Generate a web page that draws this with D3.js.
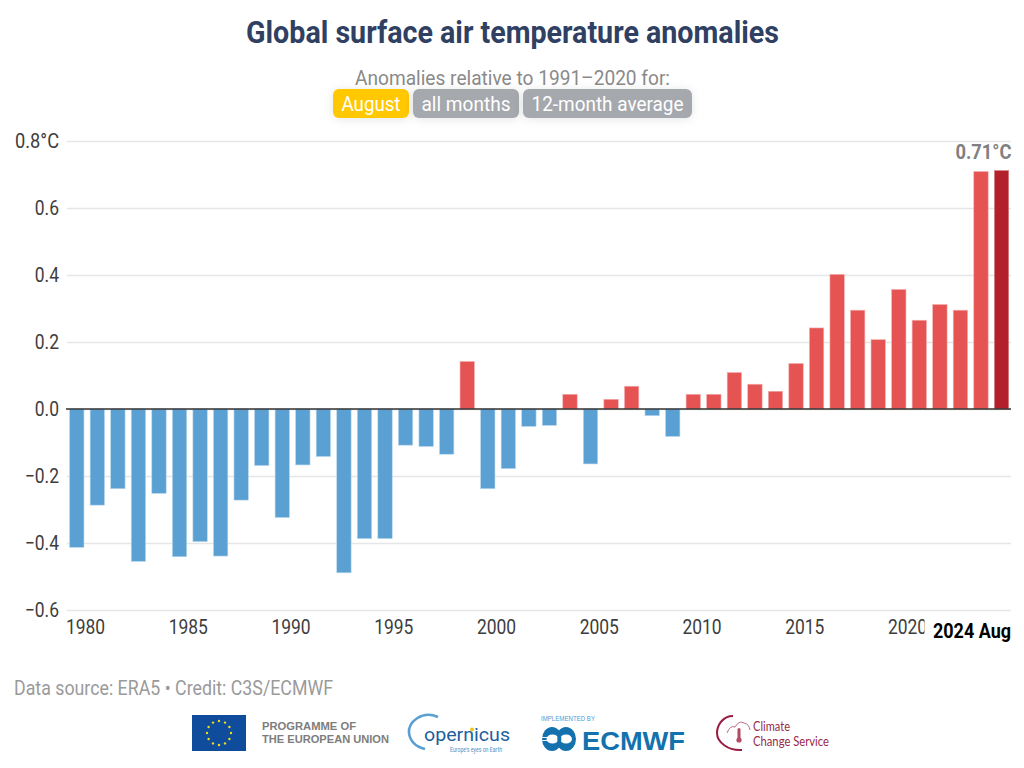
<!DOCTYPE html>
<html><head><meta charset="utf-8">
<style>html,body{margin:0;padding:0;background:#fff}svg{display:block}text{font-family:Roboto,sans-serif}</style>
<script src="https://cdn.jsdelivr.net/npm/d3@7/dist/d3.min.js"></script>
</head><body><svg id="c" width="1024" height="768"></svg>
<script>
const years=[1979,1980,1981,1982,1983,1984,1985,1986,1987,1988,1989,1990,1991,1992,1993,1994,1995,1996,1997,1998,1999,2000,2001,2002,2003,2004,2005,2006,2007,2008,2009,2010,2011,2012,2013,2014,2015,2016,2017,2018,2019,2020,2021,2022,2023,2024];
const anomalies=[-0.413,-0.287,-0.238,-0.455,-0.252,-0.441,-0.396,-0.439,-0.272,-0.169,-0.324,-0.167,-0.142,-0.489,-0.387,-0.387,-0.108,-0.112,-0.135,0.142,-0.238,-0.178,-0.052,-0.049,0.044,-0.164,0.029,0.068,-0.02,-0.082,0.044,0.044,0.109,0.074,0.053,0.136,0.242,0.402,0.295,0.207,0.357,0.265,0.312,0.295,0.709,0.712];
const yTicks=[-0.6,-0.4,-0.2,0,0.2,0.4,0.6,0.8];
const xTicks=[1980,1985,1990,1995,2000,2005,2010,2015,2020];
const title="Global surface air temperature anomalies";
const subtitle="Anomalies relative to 1991–2020 for:";
const pillLabels=["August","all months","12-month average"];
const credit="Data source: ERA5 • Credit: C3S/ECMWF";
const monthOffset=0.6;

const svg=d3.select("#c");
const x=d3.scaleLinear().domain([1980,2020]).range([85,907]);
const y=d3.scaleLinear().domain([-0.6,0.8]).range([610,141]);
const L=67,R=1011;

function condense(sel,f){sel.each(function(){const w=this.getComputedTextLength();
  d3.select(this).attr("textLength",w*f).attr("lengthAdjust","spacingAndGlyphs");});return sel;}
function T(s,px,py,size,weight,fill,anchor,len,family){
  const t=svg.append("text").attr("x",px).attr("y",py).attr("font-size",size).attr("font-weight",weight)
   .attr("fill",fill).attr("text-anchor",anchor||"start").text(s);
  if(family)t.style("font-family",family);
  if(len)t.attr("textLength",len).attr("lengthAdjust","spacingAndGlyphs");
  return t;}

T(title,512.5,43,31.5,700,"#2f4063","middle",533);
T(subtitle,512.5,85,21,400,"#8a8a8a","middle",315);

// pills
const pillX=[333,413,523],pillW=[76,106,169],pillC=["#ffc800","#a5a8ad","#a5a8ad"],pillTW=[59,89,152];
pillLabels.forEach((p,i)=>{
  svg.append("rect").attr("x",pillX[i]).attr("y",89).attr("width",pillW[i]).attr("height",29).attr("rx",6)
    .attr("fill",pillC[i]).style("filter","drop-shadow(0 1px 5px rgba(0,0,0,.10))");
  T(p,pillX[i]+pillW[i]/2,111,21,400,"#fff","middle",pillTW[i]);
});

// y axis and grid
const gy=svg.append("g").attr("transform",`translate(${L},0)`)
  .call(d3.axisLeft(y).tickValues(yTicks).tickSize(-(R-L)).tickPadding(8)
    .tickFormat(d=>{const s=d3.format(".1f")(d).replace("-","−");return d===0.8?s+"°C":s;}));
gy.select(".domain").remove();
gy.selectAll(".tick line").attr("stroke","#e6e6e6").attr("stroke-width",1.5);
gy.selectAll(".tick text").attr("font-size",21).attr("fill","#3d3d3d").attr("font-family","Roboto").attr("dy","0.32em");
condense(gy.selectAll(".tick text"),0.83);
gy.selectAll(".tick text").filter(d=>d===0.8).attr("textLength",44);

// bars
const bw=14.4;
svg.append("g").selectAll("rect").data(years).join("rect")
  .attr("x",d=>x(d+monthOffset)-bw/2).attr("width",bw)
  .attr("y",(d,i)=>Math.min(y(anomalies[i]),y(0)))
  .attr("height",(d,i)=>Math.abs(y(anomalies[i])-y(0)))
  .attr("fill",(d,i)=>i===years.length-1?"#b2212b":anomalies[i]>=0?"#e65353":"#5ba0d2")
  .attr("stroke",(d,i)=>i===years.length-1?"#d98a8f":anomalies[i]>=0?"#f4b3b3":"#bcd9ee").attr("stroke-width",0.6);

// zero line
svg.append("line").attr("x1",L-1).attr("x2",R).attr("y1",y(0)).attr("y2",y(0)).attr("stroke","#333").attr("stroke-width",1.4);

// x axis
const gx=svg.append("g").attr("transform","translate(0,610)")
  .call(d3.axisBottom(x).tickValues(xTicks).tickSize(0).tickPadding(9).tickFormat(d3.format("d")));
gx.select(".domain").remove();
gx.selectAll(".tick text").attr("font-size",21).attr("fill","#3d3d3d").attr("font-family","Roboto");
condense(gx.selectAll(".tick text"),0.83);

// highlighted labels
svg.append("rect").attr("x",924.5).attr("y",618).attr("width",92).attr("height",26).attr("fill","#fff");
T(years[years.length-1]+" Aug",1011,638,21,700,"#000","end",78);
T("0.71°C",1011.5,158.5,21,700,"#808080","end",56);

// footer
T(credit,14,694.5,20,400,"#9a9a9a","start",319);

// EU logo
svg.append("rect").attr("x",192).attr("y",715).attr("width",54).attr("height",36).attr("fill","#0f4c9c");
svg.append("g").selectAll("circle").data(d3.range(12)).join("circle")
  .attr("cx",d=>219+12*Math.cos(d*Math.PI/6)).attr("cy",d=>733+12*Math.sin(d*Math.PI/6)).attr("r",1.2).attr("fill","#f2dc1c");
T("PROGRAMME OF",262,730,11.5,700,"#7d7d7d","start",94,"'Liberation Sans'");
T("THE EUROPEAN UNION",262,743,11.5,700,"#7d7d7d","start",127,"'Liberation Sans'");

// Copernicus logo
svg.append("path").attr("d","M438,717 C422,710 408,722 409,733 C410,741 416,747 425,749").attr("fill","none").attr("stroke","#5a9fd2").attr("stroke-width",2.6);
T("opernicus",424,741,19,400,"#1d5f9d","start",86);
svg.append("circle").attr("cx",472).attr("cy",729.5).attr("r",2).attr("fill","#f2c21c");
T("Europe's eyes on Earth",450,752,6.5,400,"#4f8fc4","start",52);

// ECMWF logo
T("IMPLEMENTED BY",541,720.7,6.6,400,"#4f9bd6","start",54,"'Liberation Sans'");
const eg=svg.append("g");
eg.append("ellipse").attr("cx",552).attr("cy",739).attr("rx",10).attr("ry",12).attr("fill","#1371ae");
eg.append("ellipse").attr("cx",566).attr("cy",739).attr("rx",10).attr("ry",12).attr("fill","#1371ae");
eg.append("ellipse").attr("cx",552.5).attr("cy",739).attr("rx",6).attr("ry",4.5).attr("fill","#fff");
eg.append("ellipse").attr("cx",566).attr("cy",739).attr("rx",6).attr("ry",4.5).attr("fill","#fff");
eg.append("ellipse").attr("cx",559.3).attr("cy",739).attr("rx",2).attr("ry",5.5).attr("fill","#1371ae");
eg.append("rect").attr("x",542).attr("y",737).attr("width",10).attr("height",0.9).attr("fill","#fff");
eg.append("rect").attr("x",542).attr("y",740).attr("width",10).attr("height",0.9).attr("fill","#fff");
T("ECMWF",582,750,25,700,"#1371ae","start",103,"'Liberation Sans'");

// C3S logo
svg.append("path").attr("d","M733,716 C723,716 717,725 717,733 C717,742 728,751 742,750").attr("fill","none").attr("stroke","#9a1d3f").attr("stroke-width",2);
svg.append("path").attr("d","M727,733 Q730,725 735,727 Q739,720 744,723 Q749,724 750,730").attr("fill","none").attr("stroke","#b85c7a").attr("stroke-width",0.9);
svg.append("rect").attr("x",737.5).attr("y",728).attr("width",3).attr("height",11).attr("rx",1.5).attr("fill","#b04a66");
svg.append("circle").attr("cx",739).attr("cy",740).attr("r",2.6).attr("fill","#b04a66");
T("Climate",753,730.5,12.8,400,"#9a2a4a","start",37,"Lato");
T("Change Service",753,746,12.8,400,"#9a2a4a","start",76,"Lato");
</script></body></html>
